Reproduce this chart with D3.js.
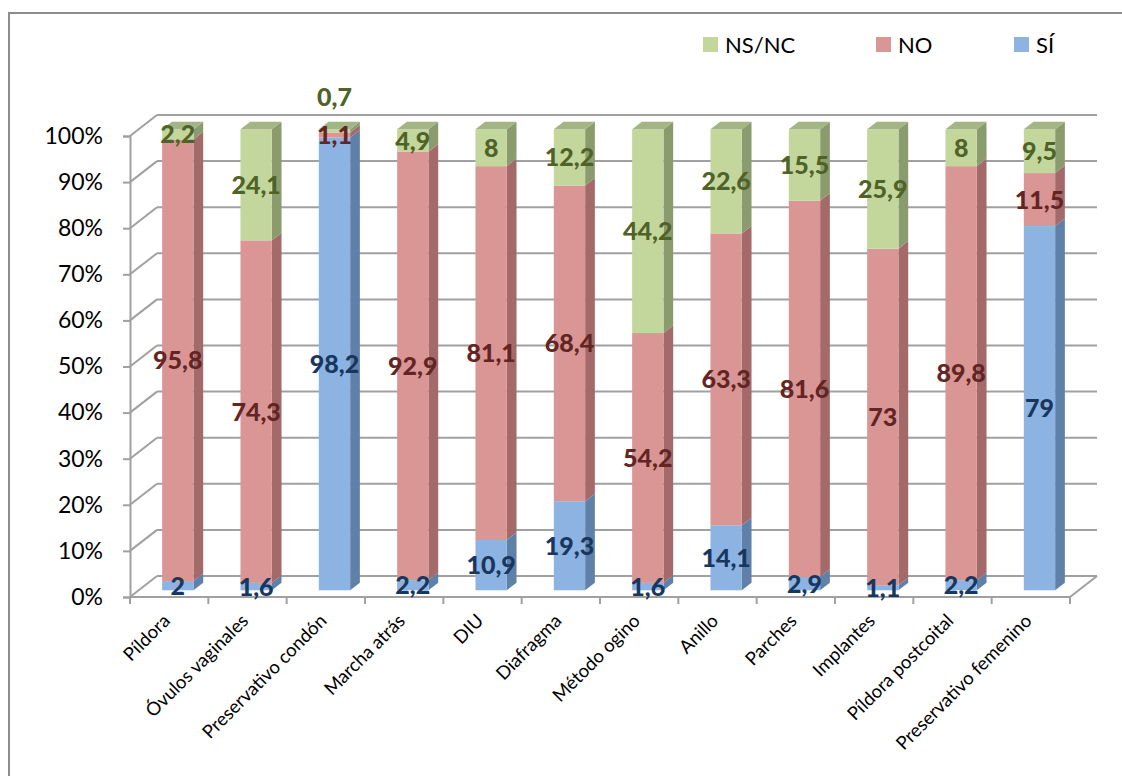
<!DOCTYPE html>
<html>
<head>
<meta charset="utf-8">
<script src="https://cdn.jsdelivr.net/npm/d3@7"></script>
<style>
  body { margin: 0; background: #fff; }
  svg { font-family: Lato, "Open Sans", sans-serif; }
</style>
</head>
<body>
<div id="chart"></div>
<script>
// data
const categories = ["Píldora", "Óvulos vaginales", "Preservativo condón", "Marcha atrás", "DIU",
  "Diafragma", "Método ogino", "Anillo", "Parches", "Implantes", "Píldora postcoital", "Preservativo femenino"];
const si   = [2, 1.6, 98.2, 2.2, 10.9, 19.3, 1.6, 14.1, 2.9, 1.1, 2.2, 79];
const no   = [95.8, 74.3, 1.1, 92.9, 81.1, 68.4, 54.2, 63.3, 81.6, 73, 89.8, 11.5];
const nsnc = [2.2, 24.1, 0.7, 4.9, 8, 12.2, 44.2, 22.6, 15.5, 25.9, 8, 9.5];
const seriesNames = ["SÍ", "NO", "NS/NC"];
const legendOrder = ["NS/NC", "NO", "SÍ"];
const yTicks = [0, 10, 20, 30, 40, 50, 60, 70, 80, 90, 100];

const colors = {
  "SÍ":    { front: "#8db3e2", side: "#5f80a8", top: "#7a9cc8", text: "#17375e" },
  "NO":    { front: "#d99694", side: "#a36a69", top: "#c07f7d", text: "#632523" },
  "NS/NC": { front: "#c3d69b", side: "#8a9c6e", top: "#a3b584", text: "#4f6228" }
};

const W = 1122, H = 776;
const svg = d3.select("#chart").append("svg")
  .attr("width", W).attr("height", H);

// outer frame
svg.append("rect")
  .attr("x", 9).attr("y", 13).attr("width", W).attr("height", H)
  .attr("fill", "none").attr("stroke", "#8c8c8c").attr("stroke-width", 2);

// front plane scales + depth vector for the 3d look
const x0 = 130, x1 = 1070;
const depth = { dx: 27, dy: -21 };
const barFront = 0.32, barBack = 0.68;

const x = d3.scaleBand().domain(categories).range([x0, x1])
  .paddingInner(0.6).paddingOuter(0.3);
const xEdge = d3.scaleBand().domain(categories).range([x0, x1]).padding(0);
const y = d3.scaleLinear().domain([0, 100]).range([597, 136]);

const grid = svg.append("g")
  .attr("stroke", "#a0a0a0").attr("stroke-width", 2).attr("fill", "none");

// back wall gridlines and side wall diagonals
yTicks.forEach(t => {
  grid.append("line")
    .attr("x1", x0).attr("y1", y(t))
    .attr("x2", x0 + depth.dx).attr("y2", y(t) + depth.dy);
  grid.append("line")
    .attr("x1", x0 + depth.dx).attr("y1", y(t) + depth.dy)
    .attr("x2", x1 + depth.dx).attr("y2", y(t) + depth.dy);
});
// floor front + right edge
grid.append("line")
  .attr("x1", x0).attr("y1", y(0)).attr("x2", x1).attr("y2", y(0));
grid.append("line")
  .attr("x1", x1).attr("y1", y(0)).attr("x2", x1 + depth.dx).attr("y2", y(0) + depth.dy);

// category tick marks
const edges = categories.map(c => xEdge(c)).concat([x1]);
grid.selectAll("line.xt").data(edges).enter().append("line")
  .attr("class", "xt")
  .attr("x1", d => d).attr("x2", d => d)
  .attr("y1", y(0)).attr("y2", y(0) + 7);

// y axis
const yAxis = svg.append("g")
  .attr("transform", `translate(${x0},0)`)
  .call(d3.axisLeft(y).tickValues(yTicks).tickSize(7).tickPadding(20)
    .tickFormat(d => d + "%"));
yAxis.select(".domain").attr("stroke", "#a0a0a0").attr("stroke-width", 2);
yAxis.selectAll(".tick line").attr("stroke", "#a0a0a0").attr("stroke-width", 2);
yAxis.selectAll("text").attr("font-size", 23).attr("fill", "#000")
  .attr("font-family", "Lato, sans-serif");

// stacked data, normalised to 100%
const rows = categories.map((c, i) => ({ cat: c, "SÍ": si[i], "NO": no[i], "NS/NC": nsnc[i] }));
rows.forEach(r => {
  const tot = r["SÍ"] + r["NO"] + r["NS/NC"];
  seriesNames.forEach(s => r[s + "_p"] = r[s] / tot * 100);
});
const stack = d3.stack().keys(seriesNames.map(s => s + "_p"))(rows);

const fx = barFront * depth.dx, fy = barFront * depth.dy;
const bdx = (barBack - barFront) * depth.dx, bdy = (barBack - barFront) * depth.dy;
const bw = x.bandwidth();

const bars = svg.append("g");
stack.forEach((layer, li) => {
  const s = seriesNames[li];
  layer.forEach(seg => {
    const cat = seg.data.cat;
    const left = x(cat) + fx;
    const yt = y(seg[1]) + fy, yb = y(seg[0]) + fy;
    const g = bars.append("g");
    // side face
    g.append("path")
      .attr("d", `M${left + bw},${yb} L${left + bw + bdx},${yb + bdy} L${left + bw + bdx},${yt + bdy} L${left + bw},${yt} Z`)
      .attr("fill", colors[s].side);
    // front face
    g.append("rect")
      .attr("x", left).attr("y", yt).attr("width", bw).attr("height", Math.max(0, yb - yt))
      .attr("fill", colors[s].front);
    // top face only on the topmost segment
    if (li === stack.length - 1) {
      g.append("path")
        .attr("d", `M${left},${yt} L${left + bdx},${yt + bdy} L${left + bw + bdx},${yt + bdy} L${left + bw},${yt} Z`)
        .attr("fill", colors[s].top);
    }
  });
});

// value labels
const labels = svg.append("g")
  .attr("font-size", 25).attr("font-weight", 900).attr("text-anchor", "middle");
stack.forEach((layer, li) => {
  const s = seriesNames[li];
  layer.forEach(seg => {
    const cat = seg.data.cat;
    const cx = x(cat) + fx + bw / 2;
    let cy = y((seg[0] + seg[1]) / 2) + fy;
    // tiny top segment: excel pushes the label above the bar
    if (seg[1] - seg[0] < 1 && li === stack.length - 1) cy = y(100) + fy - 32;
    labels.append("text")
      .attr("x", cx).attr("y", cy).attr("dy", "0.36em")
      .attr("fill", colors[s].text)
      .text(String(seg.data[s]).replace(".", ","));
  });
});

// category labels, rotated
svg.append("g").selectAll("text").data(categories).enter().append("text")
  .attr("transform", d => `translate(${x(d) + bw / 2 + 2},${y(0) + 25}) rotate(-45)`)
  .attr("text-anchor", "end").attr("font-size", 18.5).attr("fill", "#000")
  .text(d => d);

// legend
const leg = svg.append("g").attr("font-size", 22);
const legX = [703, 876, 1014];
legendOrder.forEach((s, i) => {
  leg.append("rect").attr("x", legX[i]).attr("y", 37).attr("width", 15).attr("height", 15)
    .attr("fill", colors[s].front);
  leg.append("text").attr("x", legX[i] + 22).attr("y", 53).attr("fill", "#000").text(s);
});
</script>
</body>
</html>
